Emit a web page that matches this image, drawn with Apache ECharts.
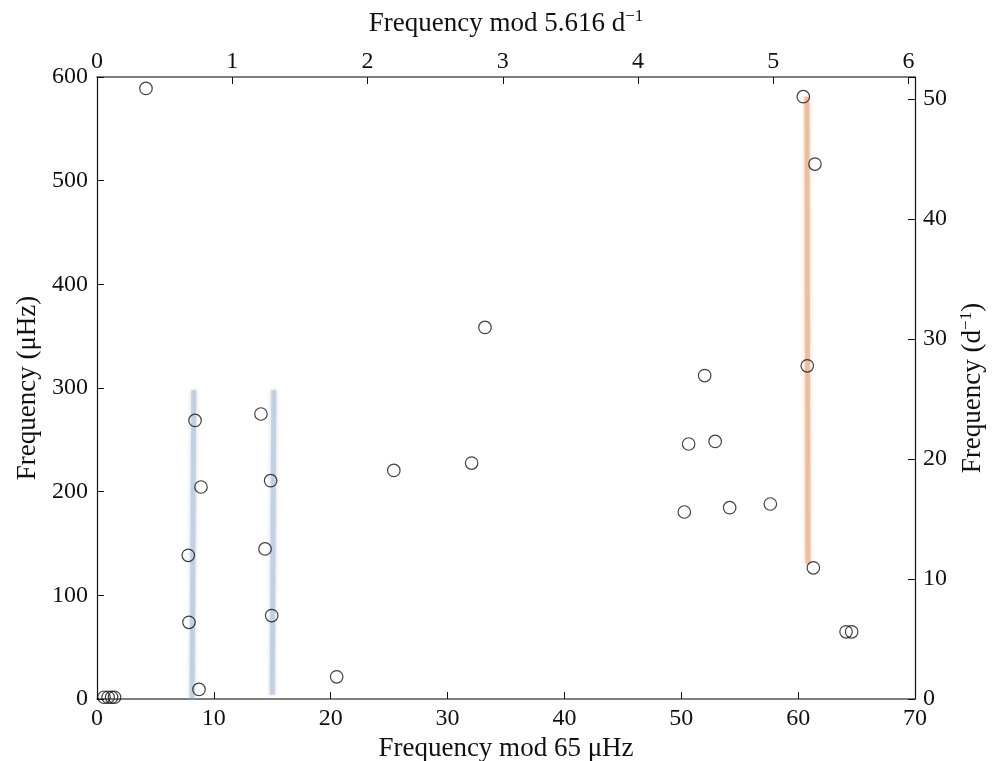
<!DOCTYPE html>
<html>
<head>
<meta charset="utf-8">
<title>Frequency échelle diagram</title>
<script src="https://cdn.jsdelivr.net/npm/echarts@6/dist/echarts.min.js"></script>
<style>
  html, body { margin: 0; padding: 0; background: #fff; }
  #chart { width: 992px; height: 761px; }
</style>
</head>
<body>
<div id="chart"></div>
<script>
// Folded frequency (mod 65 µHz) and frequency (µHz) of each detected peak
const freqMod = [4.19, 60.44, 61.44, 33.2, 52.0, 60.78, 8.39, 14.03, 50.63, 52.9,
                 14.86, 8.9, 25.4, 32.06, 50.26, 54.14, 57.62, 14.38, 7.81, 7.87,
                 14.95, 61.3, 64.1, 64.58, 20.51, 8.73, 0.6, 0.95, 1.25, 1.5];
const freq    = [589, 581, 516, 358.4, 312, 321.4, 268.7, 274.9, 246, 248.5,
                 210.6, 204.5, 220.5, 227.6, 180.4, 184.6, 188.1, 144.8, 138.6, 74,
                 80.5, 126.5, 64.8, 64.8, 21.4, 9.2, 1.7, 1.7, 1.7, 1.7];

// Ridges traced through the échelle diagram: [mod freq, freq] end points
const ridgeBlueA = [[8.28, 298], [8.14, 1]];
const ridgeBlueB = [[15.13, 298], [15.0, 4]];
const ridgeOrange = [[60.75, 581], [60.84, 130]];

// Axis settings (µHz to d^-1 conversion factor)
const UHZ_TO_CPD = 0.0864;
const xMax = 70;
const yMax = 600;
const xTicks = 10;
const yTicks = 100;

const FONT = 'Liberation Serif';
const intOnly = v => Math.abs(v - Math.round(v)) < 1e-6 ? String(Math.round(v)) : '';

const chart = echarts.init(document.getElementById('chart'), null, { renderer: 'canvas' });

function axisBase(color, width) {
  return {
    axisLine: { show: true, onZero: false, lineStyle: { color: color, width: width } },
    axisTick: { show: true, inside: true, length: 7, lineStyle: { color: '#111', width: 1 } },
    splitLine: { show: false },
    axisLabel: { color: '#111', fontFamily: FONT, fontSize: 24 },
    nameTextStyle: { color: '#111', fontFamily: FONT, fontSize: 27 }
  };
}

function ridge(data, color) {
  return {
    type: 'line',
    data: data,
    symbol: 'none',
    silent: true,
    z: 1,
    lineStyle: { color: color, width: 5, opacity: 0.75, shadowBlur: 4, shadowColor: color, cap: 'butt' }
  };
}

const supRich = { sup: { fontFamily: FONT, fontSize: 17, verticalAlign: 'top', color: '#111' } };

const option = {
  backgroundColor: '#fff',
  animation: false,
  grid: { left: 97, top: 77, width: 818, height: 622, containLabel: false, outerBoundsMode: 'none' },
  xAxis: [
    Object.assign(axisBase('#555', 1.5), {
      type: 'value', position: 'bottom', min: 0, max: xMax, interval: xTicks,
      name: 'Frequency mod 65 μHz', nameLocation: 'middle', nameGap: 30,
      axisLabel: { color: '#111', fontFamily: FONT, fontSize: 24, margin: 8, formatter: intOnly }
    }),
    Object.assign(axisBase('#555', 1.5), {
      type: 'value', position: 'top', min: 0, max: xMax * UHZ_TO_CPD, interval: 1,
      name: 'Frequency mod 5.616 d{sup|−1}', nameLocation: 'middle', nameGap: 38,
      nameTextStyle: { color: '#111', fontFamily: FONT, fontSize: 27, lineHeight: 31, rich: supRich },
      axisLabel: { color: '#111', fontFamily: FONT, fontSize: 24, margin: 3, formatter: intOnly }
    })
  ],
  yAxis: [
    Object.assign(axisBase('#111', 1.2), {
      type: 'value', position: 'left', min: 0, max: yMax, interval: yTicks,
      name: 'Frequency (μHz)', nameLocation: 'middle', nameGap: 55, nameRotate: 90,
      axisLabel: { color: '#111', fontFamily: FONT, fontSize: 24, margin: 9, formatter: intOnly }
    }),
    Object.assign(axisBase('#111', 1.2), {
      type: 'value', position: 'right', min: 0, max: yMax * UHZ_TO_CPD, interval: 10,
      name: 'Frequency (d{sup|−1})', nameLocation: 'middle', nameGap: 32, nameRotate: 90,
      nameTextStyle: { color: '#111', fontFamily: FONT, fontSize: 27, lineHeight: 31, rich: supRich },
      axisLabel: { color: '#111', fontFamily: FONT, fontSize: 24, margin: 8, formatter: intOnly }
    })
  ],
  series: [
    ridge(ridgeBlueA, '#b9cadb'),
    ridge(ridgeBlueB, '#b9cadb'),
    ridge(ridgeOrange, '#e8b695'),
    {
      type: 'scatter',
      xAxisIndex: 0,
      yAxisIndex: 0,
      z: 3,
      symbol: 'circle',
      symbolSize: 12.5,
      itemStyle: { color: 'rgba(255,255,255,0)', borderColor: '#111', borderWidth: 1.2 },
      data: freqMod.map((x, i) => [x, freq[i]])
    }
  ]
};

chart.setOption(option);
</script>
</body>
</html>
